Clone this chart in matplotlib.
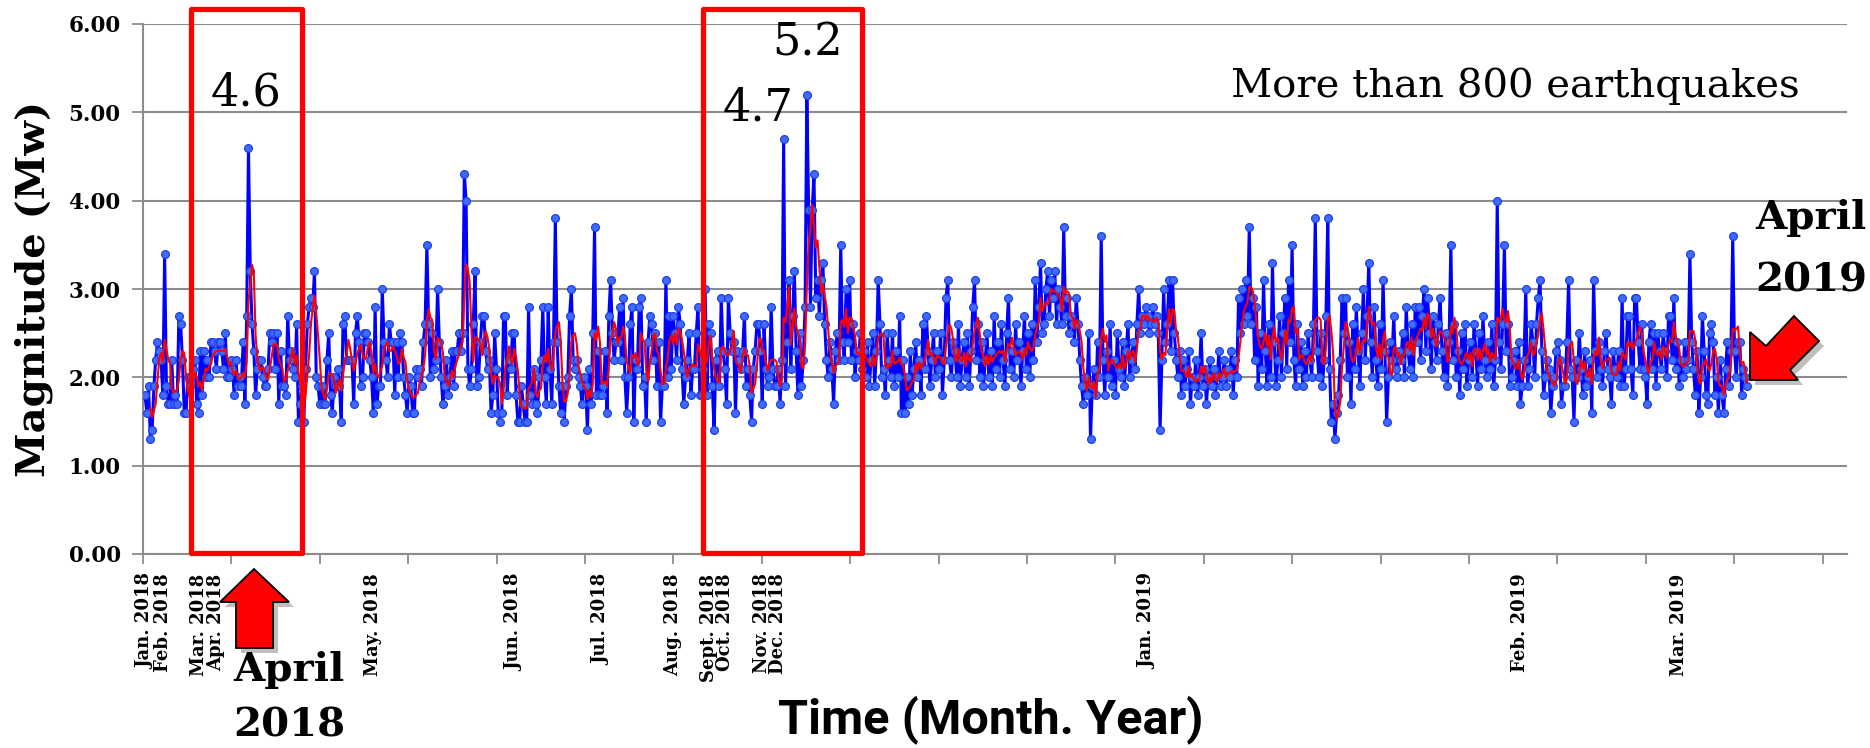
import numpy as np
import pandas as pd
import matplotlib
matplotlib.use('Agg')
from matplotlib import pyplot as plt
from matplotlib.patches import Polygon, Rectangle
from matplotlib.transforms import IdentityTransform

# Magnitudes (Mw) in chronological order, split into chunks of about one tick interval
seg01 = [1.8, 1.6, 1.9, 1.3, 1.4, 1.9, 2.2, 2.4, 2.3, 2.2, 1.8, 3.4, 1.9, 1.7, 1.7, 2.2, 1.7, 1.8, 1.7, 2.7,
         2.6, 2.2, 1.6, 1.6, 2.0, 1.9, 2.0, 2.1, 2.2, 1.7, 1.6, 2.3, 1.8, 2.3, 2.0, 2.2, 2.0, 2.4, 2.4, 2.3,
         2.1, 2.4, 2.4, 2.3, 2.1, 2.5, 2.0, 2.0, 2.2, 2.1, 1.8, 2.2, 1.9, 2.0, 1.9, 2.4, 1.7, 2.7, 4.6, 3.2,
         2.6, 2.3, 1.8, 2.1, 2.2, 2.2, 2.0, 1.9, 1.9, 2.1, 2.5]
seg02 = [2.4, 2.5, 2.1, 2.5, 1.7, 2.3, 1.9, 1.9, 1.8, 2.7, 2.2, 2.3, 2.1, 2.0, 2.6, 1.5, 1.7, 1.9, 1.5, 2.1,
         2.6, 2.8, 2.9, 2.8, 3.2, 2.0, 1.9, 1.7, 1.9, 1.7, 1.7, 2.2, 2.5, 1.8, 1.6, 2.0, 1.9, 2.1, 1.9, 1.5,
         2.6, 2.7, 2.2, 2.2, 2.2, 2.2, 1.7, 2.5, 2.7, 2.4, 1.9, 2.0, 2.5, 2.5, 2.4, 2.2, 2.0, 1.6, 2.8, 1.7,
         1.9, 1.9, 3.0, 2.4, 2.2, 2.0, 2.6, 2.4, 2.4, 1.8, 2.4, 2.0, 2.5, 2.4, 2.0, 1.8, 1.6]
seg03 = [2.0, 1.9, 1.6, 1.6, 2.1, 2.0, 2.1, 1.9, 2.4, 2.6, 3.5, 2.6, 2.0, 2.5, 2.1, 2.2, 3.0, 2.4, 2.0, 1.7,
         1.9, 2.2, 1.8, 2.0, 2.3, 1.9, 2.3, 2.3, 2.5, 2.3, 2.5, 4.3, 4.0, 2.1, 1.9, 2.1, 2.6, 3.2, 1.9, 2.0,
         2.4, 2.7, 2.7, 2.3, 2.1, 2.2, 1.6, 1.8, 2.5, 2.1, 1.6, 1.5, 1.6, 2.7, 2.7, 1.8, 2.2, 2.1, 2.5, 2.5,
         1.8, 1.5, 1.5, 1.9, 1.7, 1.5, 1.5, 2.8, 1.8, 1.7, 2.1, 1.7, 1.6, 2.0, 2.2, 2.8, 2.0, 1.7]
seg04 = [2.8, 2.1, 1.7, 2.4, 3.8, 2.4, 1.9, 1.6, 1.9, 1.5, 1.9, 2.0, 2.7, 3.0, 2.2, 2.1, 2.2, 2.0, 1.9, 1.7,
         2.0, 1.9, 1.4, 2.1, 1.7, 2.5, 3.7, 1.8, 2.3, 1.8, 1.8, 1.9, 2.3, 1.6, 2.7, 3.1, 2.5, 2.2, 2.4, 2.4,
         2.8, 2.2, 2.9, 2.0, 1.6, 2.0, 2.6, 2.8, 1.5, 2.2, 2.1, 2.8, 2.9, 1.9, 2.0, 1.5, 2.4, 2.7, 2.6, 2.2,
         2.5, 1.9, 2.4, 1.5, 1.9, 1.9, 3.1, 2.0, 2.7, 2.1, 2.7, 2.5, 2.2, 2.8, 2.6, 2.1, 1.7]
seg05 = [2.0, 2.2, 2.5, 1.8, 2.1, 2.1, 2.5, 2.8, 1.8, 1.8, 2.1, 3.0, 1.8, 2.6, 2.5, 1.9, 1.4, 2.2, 2.3, 1.9,
         2.9, 2.3, 2.1, 1.7, 2.9, 2.5, 2.3, 2.4, 1.6, 2.3, 2.2, 2.1, 2.3, 2.7, 1.9, 2.1, 1.8, 1.5, 2.1, 2.3,
         2.6, 2.6, 2.3, 1.7, 2.6, 2.1, 1.9, 2.0, 2.8, 2.1, 1.9]
seg06 = [1.9, 2.1, 1.7, 2.2, 4.7, 1.9, 2.4, 3.1, 2.1, 2.7, 3.2, 2.3, 1.8, 2.5, 1.9, 2.2, 2.8, 5.2, 3.9, 2.8,
         3.9, 4.3, 2.9, 3.1, 2.7, 3.1, 3.3, 2.6, 2.2, 2.0, 2.4, 2.1, 1.7, 2.3, 2.5, 2.2, 3.5, 2.4, 2.2, 3.0,
         2.4, 3.1, 2.2, 2.6, 2.0, 2.3, 2.2, 2.5, 2.1, 2.3]
seg07 = [2.0, 2.4, 1.9, 2.2, 2.5, 1.9, 2.3, 3.1, 2.6, 2.0, 2.1, 1.8, 2.5, 2.2, 2.0, 2.5, 1.9, 2.3, 2.0, 2.7,
         1.6, 2.2, 1.6, 2.0, 1.7, 2.3, 1.8, 2.1, 2.4, 2.0, 2.2, 1.8, 2.6, 2.1, 2.7, 2.3, 1.9, 2.2, 2.5, 2.0,
         2.3, 2.1, 2.5, 1.8, 2.2, 2.9, 3.1, 2.2, 2.0, 2.4]
seg08 = [2.3, 2.0, 2.6, 1.9, 2.2, 2.4, 2.0, 2.5, 1.9, 2.3, 2.8, 3.1, 2.2, 2.6, 2.0, 2.4, 1.9, 2.2, 2.5, 2.0,
         2.3, 1.9, 2.7, 2.1, 2.4, 2.0, 2.6, 2.2, 1.9, 2.5, 2.9, 2.1, 2.3, 2.0, 2.6, 2.2, 2.4, 1.9, 2.3, 2.7,
         2.1, 2.5, 2.0, 2.6, 2.2, 3.1, 2.4, 2.8, 3.3, 2.5]
seg09 = [2.6, 3.0, 3.2, 2.7, 3.1, 2.9, 3.2, 2.6, 3.0, 2.8, 2.6, 3.7, 2.7, 2.9, 2.5, 2.7, 2.6, 2.4, 2.9, 2.6,
         2.2, 1.9, 1.7, 2.0, 1.8, 2.5, 1.3, 1.9, 2.1, 1.8, 2.4, 2.0, 3.6, 2.2, 1.8, 2.3, 2.0, 2.6, 1.9, 2.2,
         1.8, 2.5, 2.1, 2.0, 2.4, 1.9, 2.3, 2.6, 2.0, 2.2]
seg10 = [2.4, 2.1, 2.6, 3.0, 2.5, 2.7, 2.6, 2.8, 2.7, 2.5, 2.6, 2.8, 2.6, 2.7, 2.5, 1.4, 2.2, 3.0, 2.4, 2.6,
         3.1, 2.3, 3.1, 2.5, 2.2, 2.0, 2.3, 1.8, 2.2, 1.9, 2.1, 2.3, 1.7, 2.0, 1.9, 2.2, 1.8, 2.0, 2.5, 1.9,
         2.1, 1.7, 2.0, 2.2, 1.9, 2.1, 1.8, 2.0, 2.3, 1.9]
seg11 = [2.0, 2.2, 1.9, 2.1, 2.0, 2.3, 1.8, 2.2, 2.0, 2.9, 2.5, 3.0, 2.6, 3.1, 2.7, 3.7, 2.6, 2.9, 2.2, 2.8,
         1.9, 2.5, 2.1, 3.1, 2.3, 1.9, 2.6, 2.0, 3.3, 2.4, 1.9, 2.2, 2.7, 2.0, 2.5, 2.9, 2.1, 3.1, 2.4, 3.5,
         2.2, 1.9, 2.6, 2.1, 2.4, 1.9, 2.3, 2.0, 2.5, 2.2]
seg12 = [2.0, 2.6, 3.8, 2.3, 2.0, 2.5, 1.9, 2.2, 2.7, 3.8, 2.1, 1.5, 1.7, 1.3, 1.6, 1.8, 2.2, 2.9, 2.5, 2.9,
         2.0, 2.4, 1.7, 2.6, 2.1, 2.8, 2.3, 1.9, 2.5, 3.0, 2.2, 2.7, 3.3, 2.4, 2.0, 2.8, 2.2, 1.9, 2.6, 2.1,
         3.1, 2.3, 1.5, 2.0, 2.4, 2.2, 2.7, 2.1, 2.0, 2.3]
seg13 = [2.2, 2.5, 2.0, 2.8, 2.3, 2.1, 2.6, 2.0, 2.8, 2.4, 2.8, 2.2, 2.7, 3.0, 2.3, 2.9, 2.5, 2.1, 2.7, 2.4,
         2.2, 2.6, 2.9, 2.3, 2.0, 2.5, 1.9, 2.4, 3.5, 2.2, 2.6, 2.0, 2.3, 1.8, 2.5, 2.1, 2.6, 1.9, 2.2, 2.4,
         2.0, 2.6, 2.3, 1.9, 2.5, 2.1, 2.7, 2.2, 2.0, 2.4, 2.1, 2.6, 1.9, 2.2, 4.0]
seg14 = [2.4, 2.1, 2.6, 3.5, 2.3, 2.6, 1.9, 2.0, 2.2, 2.3, 1.9, 2.4, 1.7, 1.9, 2.2, 3.0, 1.9, 2.1, 2.6, 2.4,
         2.0, 2.6, 2.9, 3.1, 2.3, 1.8, 2.0, 2.2, 2.1, 1.6, 1.9, 2.0, 2.3, 2.4, 2.2, 1.7, 1.9, 1.9, 2.4, 3.1,
         2.1, 2.0, 1.5, 2.2, 2.0, 2.5, 2.1, 1.8, 2.3, 1.9, 2.0, 2.2, 1.6, 3.1, 2.3, 2.0, 2.4, 2.1, 1.9, 2.3,
         2.5, 2.1, 2.0, 1.7, 2.3, 2.1, 2.0, 2.3, 1.9, 2.9, 1.9, 2.1, 2.7, 2.7, 2.1, 1.8, 2.9, 2.9, 2.4, 2.1,
         2.6, 2.1, 2.0, 1.7, 2.4, 2.6, 2.1, 2.5, 1.9, 2.5, 2.3, 2.1, 2.5, 2.3, 2.0, 2.7, 2.7, 2.2, 2.9, 2.1,
         2.4, 1.9, 2.2, 2.0, 2.4, 2.1, 2.2, 3.4, 2.4, 2.1, 1.8, 2.3, 1.6, 2.0, 2.7, 2.3, 1.8, 1.7, 2.5, 2.6,
         2.4, 1.8, 2.0, 1.6, 2.2, 1.8, 1.6, 2.1, 2.4, 1.9, 2.3, 3.6, 2.3, 2.0, 2.4, 2.4, 1.8, 2.1, 2.0, 1.9]

magnitude = np.array(seg01 + seg02 + seg03 + seg04 + seg05 + seg06 + seg07 + seg08 + seg09
                     + seg10 + seg11 + seg12 + seg13 + seg14)

# month labels and the event index where they sit on the category axis
month_labels = ["Jan. 2018", "Feb. 2018", "Mar. 2018", "Apr. 2018", "May. 2018", "Jun. 2018",
                "Jul. 2018", "Aug. 2018", "Sept. 2018", "Oct. 2018", "Nov. 2018", "Dec. 2018",
                "Jan. 2019", "Feb. 2019", "Mar. 2019"]
month_pos = [0, 10, 30, 40, 128, 207, 256, 296, 316, 325, 346, 355, 562, 771, 860]

y_ticks = [0, 1, 2, 3, 4, 5, 6]

W, H = 1870, 748
SERIF = ['DejaVu Serif']
GREY = '#8C8C8C'

fig = plt.figure(figsize=(W / 100, H / 100), dpi=100)
ax = fig.add_axes([143 / W, 1 - 554 / H, 1704 / W, 530 / H])

x = np.arange(len(magnitude))
step = 1602 / (len(magnitude) - 1)  # pixels per event on the category axis
moving = pd.Series(magnitude).rolling(4).mean()

ax.plot(x, magnitude, color='#0000FF', lw=2.2, marker='o', ms=5.6,
        mfc='#3F6BFF', mec='#1F3FE8', mew=0.9, zorder=3)
ax.plot(x, moving, color='#FF0000', lw=1.5, zorder=4)

ax.set_ylim(0, 6)
ax.set_xlim(-2 / step, 1702 / step)
ax.set_yticks(y_ticks)
ax.set_yticklabels([f"{v:.2f}" for v in y_ticks])
ax.set_xticks(np.arange(-2 / step, 1702 / step, 88.4 / step))
ax.set_xticklabels([])
ax.xaxis.remove_overlapping_locs = False
ax.set_xticks(month_pos, month_labels, minor=True)

ax.tick_params(axis='x', which='major', length=7, width=1.3, color=GREY)
ax.tick_params(axis='x', which='minor', length=0, pad=14, labelrotation=90, labelsize=13)
ax.tick_params(axis='y', length=8, width=1.3, color=GREY, pad=8, labelsize=15.5)
for lab in ax.get_xticklabels(minor=True) + ax.get_yticklabels():
    lab.set_fontfamily(SERIF)
    lab.set_fontweight('bold')

ax.yaxis.grid(True, color=GREY, lw=1.5)
ax.set_axisbelow(True)
for side in ['top', 'right']:
    ax.spines[side].set_visible(False)
for side in ['left', 'bottom']:
    ax.spines[side].set_color(GREY)
    ax.spines[side].set_linewidth(1.5)


def px(xp, yp):
    return (xp, H - yp)


# red highlight boxes
for x0, x1 in [(191, 302), (703, 862)]:
    fig.add_artist(Rectangle(px(x0, 553), x1 - x0, 553 - 9, fill=False, ec='#FF0000', lw=3.8,
                             joinstyle='round', transform=IdentityTransform(), zorder=5))

# red arrows with a soft shadow
up_arrow = [(254, 569), (220, 602), (236, 602), (236, 648), (273, 648), (273, 602), (289, 602)]
dl_arrow = [(1750, 380), (1750, 332), (1766, 346), (1794, 316), (1819, 341), (1790, 370), (1798, 380)]
for pts in [up_arrow, dl_arrow]:
    fig.add_artist(Polygon([px(a + 5, b + 5) for a, b in pts], closed=True, fc='#000000', ec='none',
                           alpha=0.25, transform=IdentityTransform(), zorder=5))
    fig.add_artist(Polygon([px(a, b) for a, b in pts], closed=True, fc='#FF0000', ec='#000000',
                           lw=1.3, transform=IdentityTransform(), zorder=6))

# texts
fig.text(34 / W, 1 - 289 / H, "Magnitude (Mw)", rotation=90, ha='center', va='center',
         fontsize=29, fontweight='bold', family=SERIF)
fig.text(991 / W, 1 - 720 / H, "Time (Month. Year)", ha='center', va='center',
         fontsize=35, fontweight='bold', family=['Liberation Sans Narrow', 'Roboto', 'DejaVu Sans'])
fig.text(1800 / W, 1 - 86 / H, "More than 800 earthquakes", ha='right', va='center',
         fontsize=29, family=SERIF)
fig.text(246 / W, 1 - 93 / H, "4.6", ha='center', va='center', fontsize=32, family=SERIF)
fig.text(758 / W, 1 - 108 / H, "4.7", ha='center', va='center', fontsize=32, family=SERIF)
fig.text(808 / W, 1 - 43 / H, "5.2", ha='center', va='center', fontsize=32, family=SERIF)
fig.text(289 / W, 1 - 698 / H, "April\n2018", ha='center', va='center', fontsize=29,
         fontweight='bold', family=SERIF, linespacing=1.58)
fig.text(1811 / W, 1 - 249 / H, "April\n2019", ha='center', va='center', fontsize=29,
         fontweight='bold', family=SERIF, linespacing=1.8)

fig.savefig('out.png', dpi=100)
